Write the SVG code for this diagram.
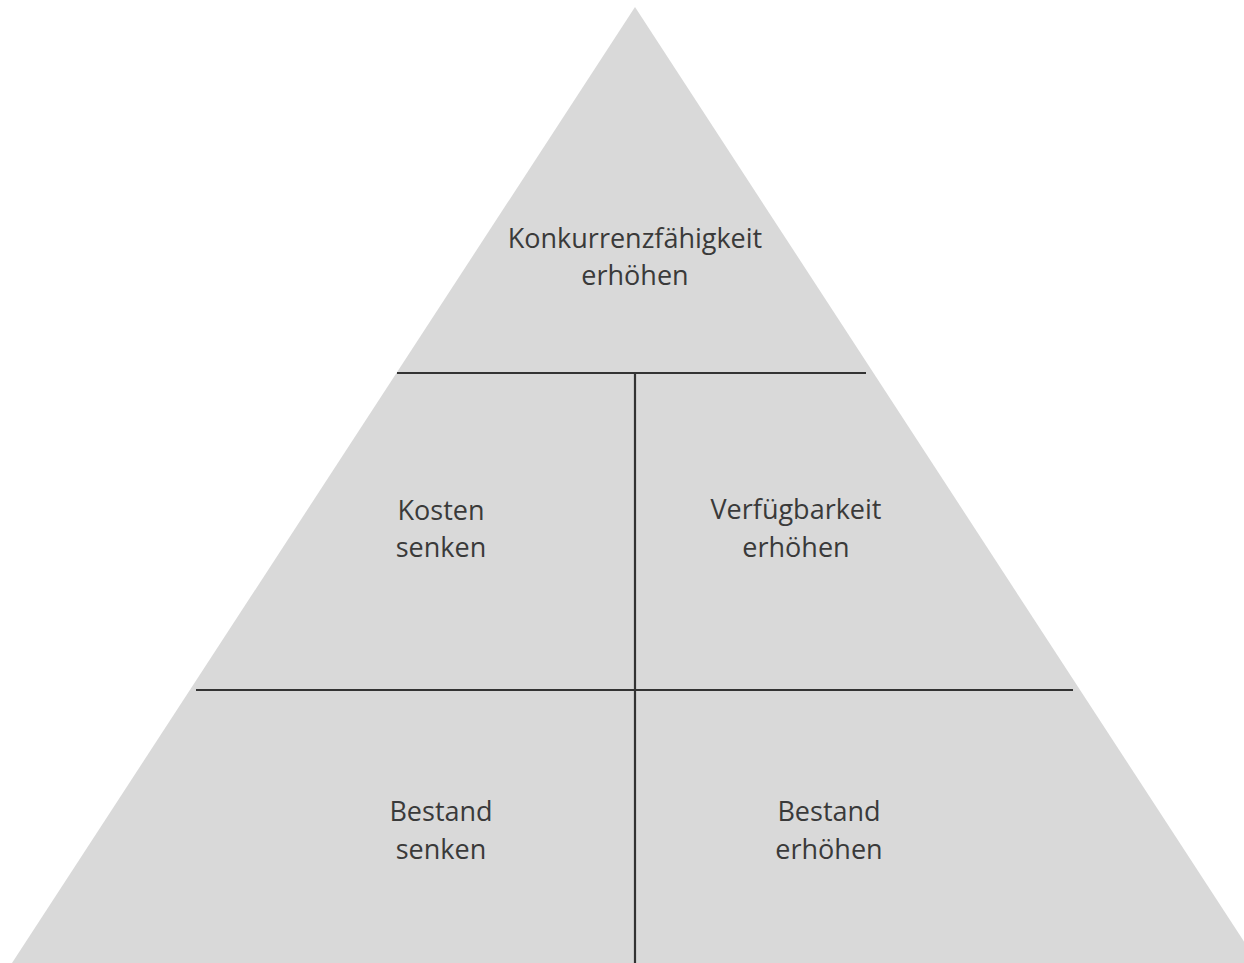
<svg xmlns="http://www.w3.org/2000/svg" width="1244" height="963" viewBox="0 0 1244 963">
<style>
.t{font-family:"Open Sans","Liberation Sans",sans-serif;font-size:27px;fill:#3a3a3a;text-anchor:middle}
.ln{stroke:#333;stroke-width:2.2;fill:none}
</style>
<rect width="1244" height="963" fill="#fff"/>
<g id="pyramid"><polygon points="635,7 12,963 1258,963" fill="#d9d9d9"/></g>
<g id="connectors">
<line class="ln" x1="397" y1="373" x2="866" y2="373"/>
<line class="ln" x1="196" y1="690" x2="1073" y2="690"/>
<line class="ln" x1="635" y1="373" x2="635" y2="963"/>
</g>
<g id="top"><text class="t" x="635" y="248">Konkurrenzfähigkeit</text><text class="t" x="635" y="285">erhöhen</text></g>
<g id="kosten"><text class="t" x="441" y="520">Kosten</text><text class="t" x="441" y="557">senken</text></g>
<g id="verf"><text class="t" x="796" y="519">Verfügbarkeit</text><text class="t" x="796" y="557">erhöhen</text></g>
<g id="bestand-senken"><text class="t" x="441" y="821">Bestand</text><text class="t" x="441" y="859">senken</text></g>
<g id="bestand-erhoehen"><text class="t" x="829" y="821">Bestand</text><text class="t" x="829" y="859">erhöhen</text></g>
</svg>
